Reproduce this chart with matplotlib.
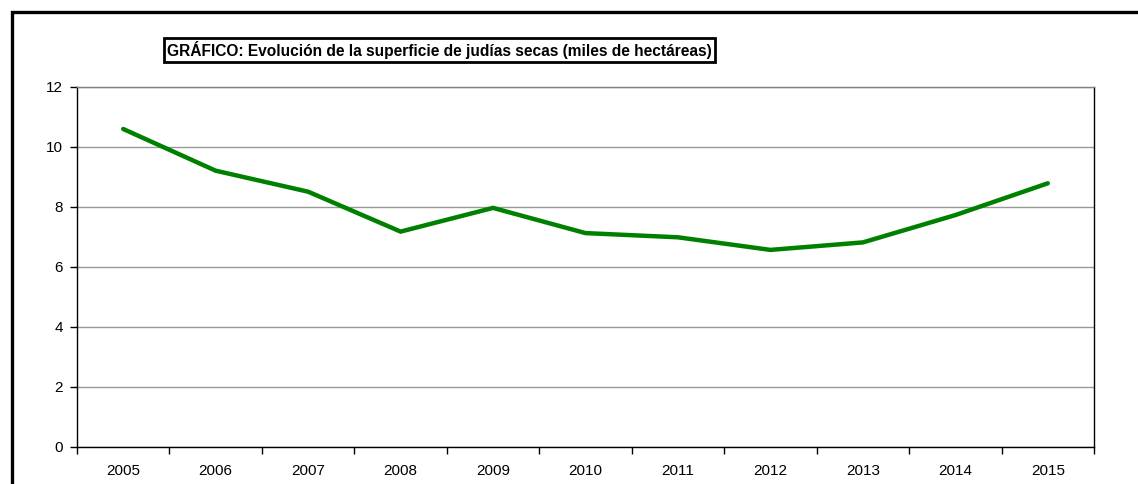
import matplotlib.pyplot as plt
from matplotlib.patches import Rectangle

years = ["2005", "2006", "2007", "2008", "2009", "2010",
         "2011", "2012", "2013", "2014", "2015"]
superficie = [10.6, 9.21, 8.51, 7.18, 7.97, 7.13, 6.99, 6.57, 6.82, 7.73, 8.79]

plt.rcParams["font.family"] = ["Liberation Sans", "DejaVu Sans"]

W, H = 1138, 484
fig = plt.figure(figsize=(W / 100, H / 100), dpi=100)

# outer frame, only left and top edges fall inside the image
fig.add_artist(Rectangle((11.5 / W, -0.2), 1.5, 1.2 - 11.5 / H,
                         transform=fig.transFigure, fill=False,
                         edgecolor="black", linewidth=2.4))

ax = fig.add_axes([77 / W, (H - 447) / H, (1094 - 77) / W, (447 - 87) / H])
x = range(len(years))
ax.plot(x, superficie, color="#008000", linewidth=3.2, solid_capstyle="round",
        solid_joinstyle="miter")

ax.set_xlim(-0.5, len(years) - 0.5)
ax.set_ylim(0, 12)
ax.set_yticks(range(0, 13, 2))
ax.yaxis.grid(True, color="#999999", linewidth=1)
ax.set_axisbelow(True)

# category ticks sit between the labels
ax.set_xticks([i - 0.5 for i in range(len(years) + 1)], minor=False)
ax.set_xticklabels([])
ax.set_xticks(list(x), minor=True)
ax.set_xticklabels(years, minor=True)
ax.tick_params(axis="x", which="major", length=5, width=1, color="black")
ax.tick_params(axis="x", which="minor", length=0, pad=12, labelsize=11)
ax.tick_params(axis="y", length=5, width=1, pad=5, labelsize=11)

for s in ax.spines.values():
    s.set_color("black")
    s.set_linewidth(1)
ax.spines["top"].set_color("#808080")

fig.text(167 / W, 1 - 50 / H,
         "GRÁFICO: Evolución de la superficie de judías secas (miles de hectáreas)",
         fontsize=11.2, fontweight="bold", va="center", ha="left",
         bbox=dict(boxstyle="square,pad=0.22", facecolor="white",
                   edgecolor="black", linewidth=2))

fig.savefig("out.png", dpi=100)
